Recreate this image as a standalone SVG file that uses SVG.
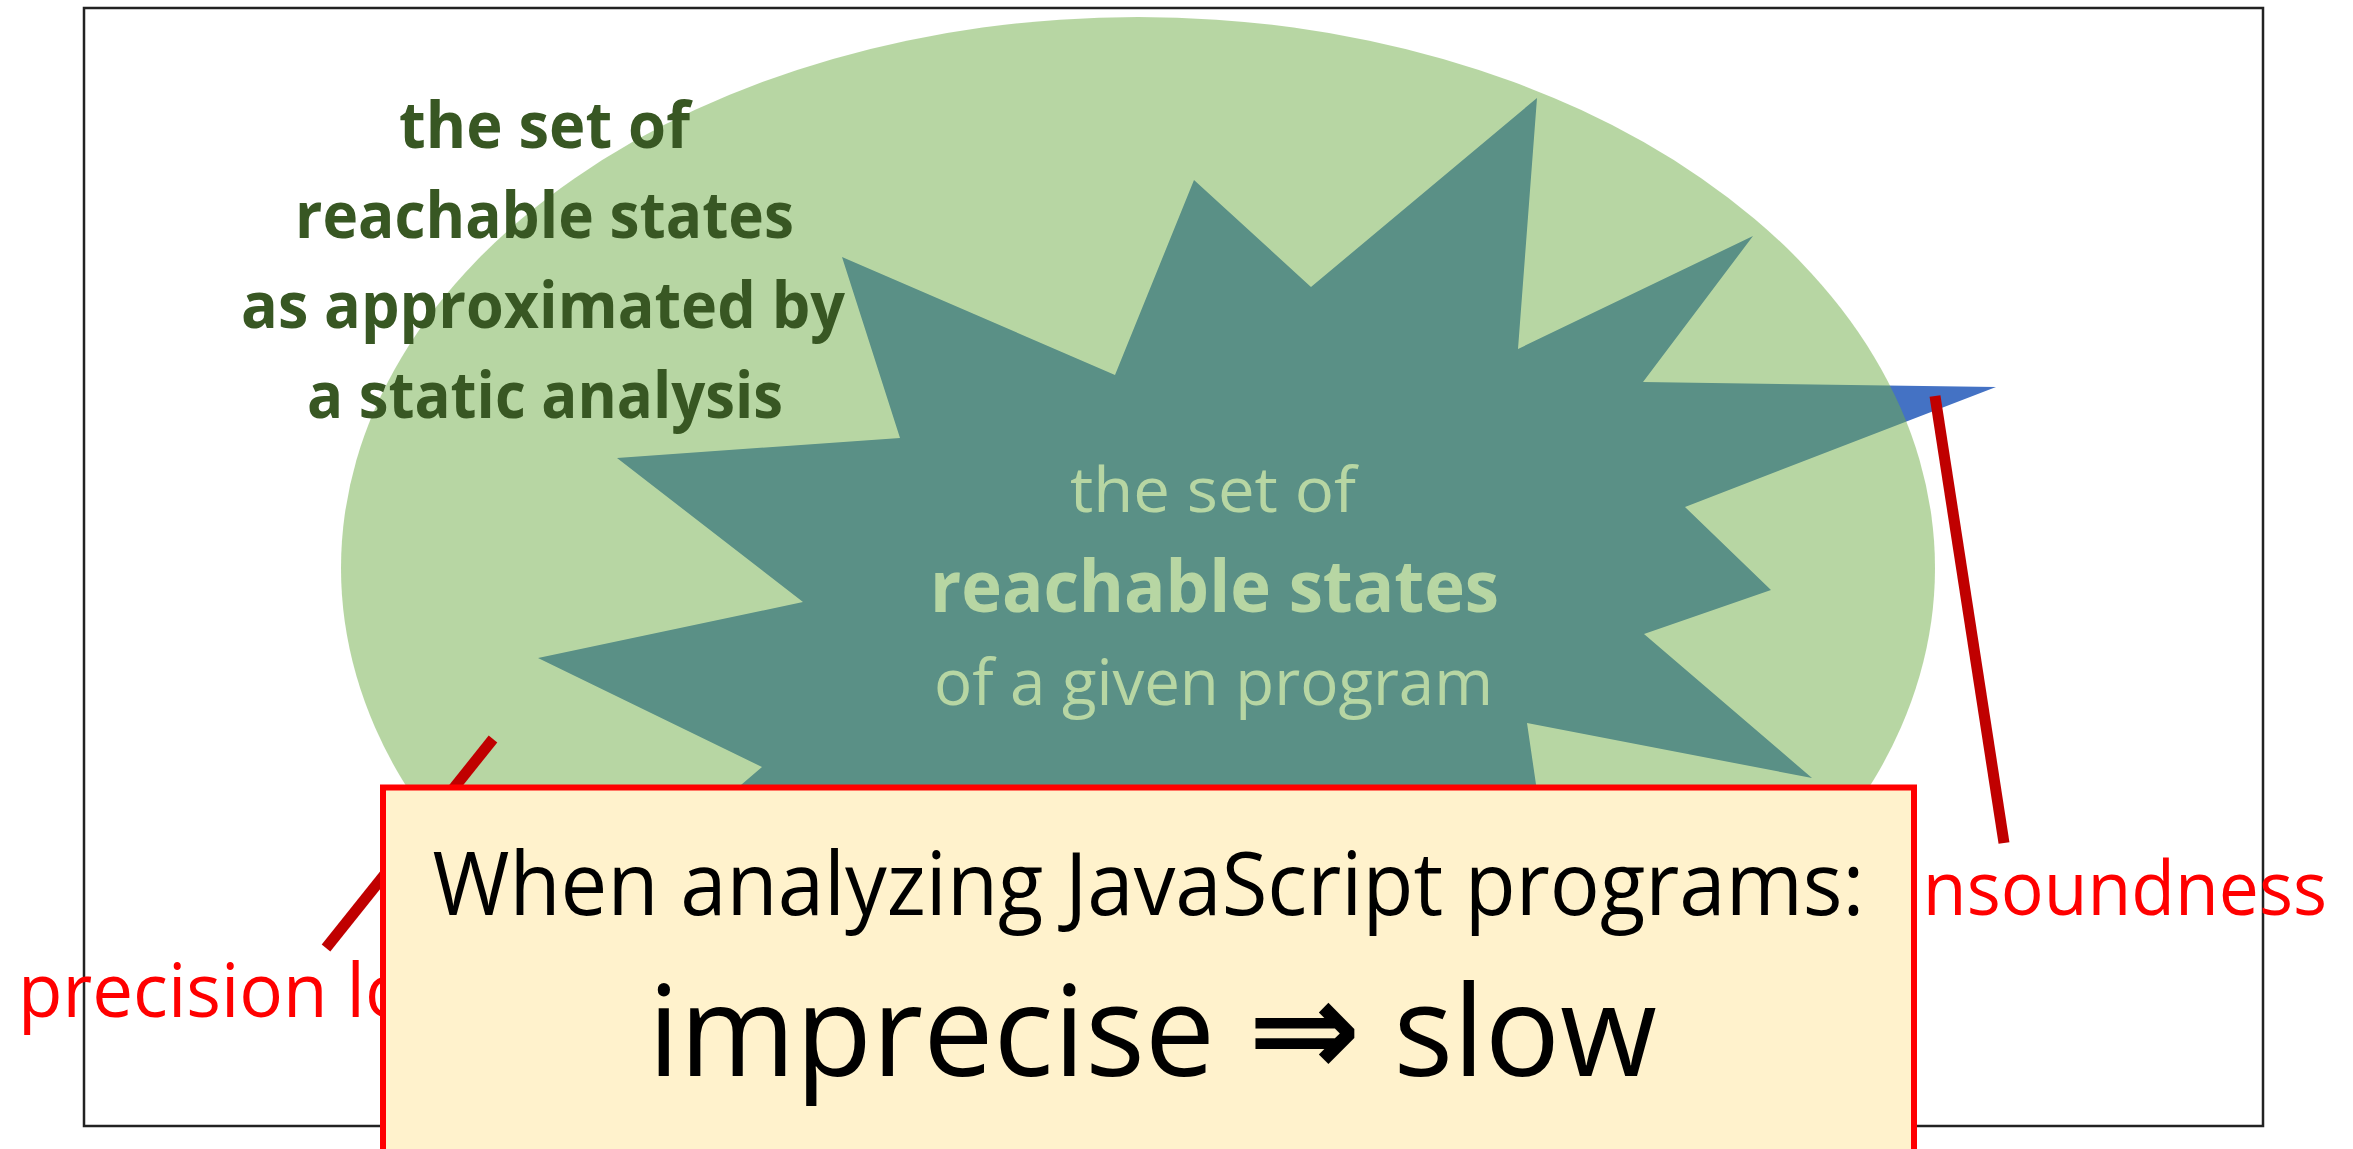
<svg xmlns="http://www.w3.org/2000/svg" width="2353" height="1149" viewBox="0 0 2353 1149">
  <style>
    .sans { font-family: "Open Sans", "Liberation Sans", "DejaVu Sans", sans-serif; }
    .approx { font-weight: bold; font-size: 64px; fill: #385723; text-anchor: middle; }
    .reach { fill: #ffffff; text-anchor: middle; }
    .label { font-size: 75px; fill: #ff0000; }
    .pointer { stroke: #c00000; stroke-width: 11; stroke-linecap: butt; fill: none; }
    .arrow { font-family: "DejaVu Sans", sans-serif; font-weight: bold; }
  </style>

  <rect width="2353" height="1149" fill="#ffffff"/>

  <!-- outer frame -->
  <rect id="frame" x="84" y="8" width="2179" height="1118" fill="none" stroke="#222222" stroke-width="2.5"/>

  <!-- actual reachable states: star burst with its caption -->
  <g id="reachable-states">
    <polygon fill="#4472c4" points="1537,98 1518,349 1753,236 1643,382 1996,387 1685,507 1771,590 1644,634 1812,778 1527,723 1550,880 1100,900 700,820 762,767 538,658 803,602 617,458 900,438 842,257 1115,375 1194,180 1311,287"/>
    <g class="sans reach">
      <text x="1213" y="512" font-size="62" textLength="286" lengthAdjust="spacingAndGlyphs">the set of</text>
      <text x="1214.5" y="612" font-size="72" font-weight="bold" textLength="569" lengthAdjust="spacingAndGlyphs">reachable states</text>
      <text x="1213.5" y="705" font-size="64" textLength="559" lengthAdjust="spacingAndGlyphs">of a given program</text>
    </g>
  </g>

  <!-- over-approximation: translucent ellipse drawn over the star -->
  <g id="approximation">
    <ellipse cx="1138" cy="568" rx="797" ry="551" fill="#70ad47" fill-opacity="0.5"/>
    <g class="sans approx">
      <text x="544.5" y="148" textLength="291" lengthAdjust="spacingAndGlyphs">the set of</text>
      <text x="544.5" y="238" textLength="499" lengthAdjust="spacingAndGlyphs">reachable states</text>
      <text x="543" y="328" textLength="604" lengthAdjust="spacingAndGlyphs">as approximated by</text>
      <text x="545" y="418" textLength="476" lengthAdjust="spacingAndGlyphs">a static analysis</text>
    </g>
  </g>

  <!-- pointer lines -->
  <g id="connectors">
    <line class="pointer" x1="493" y1="739" x2="326" y2="948"/>
    <line class="pointer" x1="1935" y1="396" x2="2004" y2="843"/>
  </g>

  <g id="label-precision-loss">
    <text class="sans label" x="18" y="1017" textLength="460" lengthAdjust="spacingAndGlyphs">precision loss</text>
  </g>
  <g id="label-unsoundness">
    <text class="sans label" x="1879" y="915" textLength="448" lengthAdjust="spacingAndGlyphs">unsoundness</text>
  </g>

  <!-- callout box -->
  <g id="callout">
    <rect x="383" y="787.5" width="1531" height="420" fill="#fff2cc" stroke="#ff0000" stroke-width="6"/>
    <text class="sans" x="1148.5" y="915" font-size="88" fill="#000000" text-anchor="middle" textLength="1432" lengthAdjust="spacingAndGlyphs">When analyzing JavaScript programs:</text>
    <text class="sans" x="1152.5" y="1076" font-size="126" fill="#000000" text-anchor="middle" textLength="1009" lengthAdjust="spacingAndGlyphs">imprecise <tspan class="arrow" font-size="136">⇒</tspan> slow</text>
  </g>
</svg>
